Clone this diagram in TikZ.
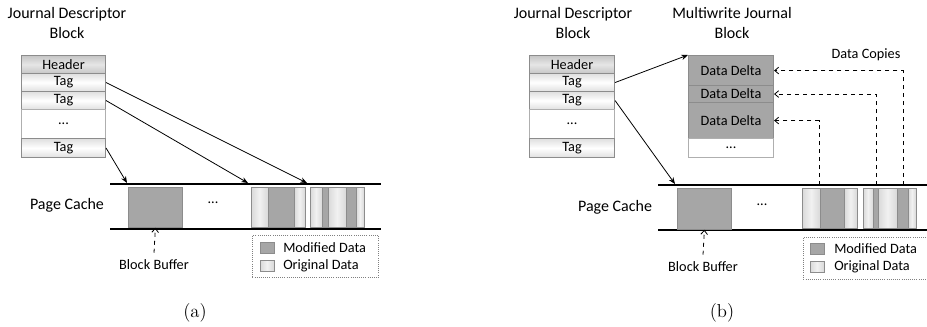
\documentclass[tikz,border=0pt]{standalone}
\usepackage{fontspec}
\usetikzlibrary{arrows.meta}
\newfontfamily\carl{Carlito}
\definecolor{darkg}{HTML}{A6A6A6}
\definecolor{lightg}{HTML}{E8E8E8}
\definecolor{edgeg}{HTML}{8C8C8C}
\tikzset{
  sz/.style 2 args={minimum width={#1*0.75pt},minimum height={#2*0.75pt}},
  lbl/.style={font=\carl\fontsize{12}{15}\selectfont, align=center, inner sep=0},
  sml/.style={font=\carl\fontsize{10.7}{13}\selectfont, inner sep=0},
  hdrow/.style={draw=edgeg, line width=0.8pt, top color=gray!45, bottom color=gray!45, middle color=gray!20, anchor=north west, inner sep=0, font=\carl\fontsize{10.7}{13}\selectfont},
  tagrow/.style={draw=edgeg, line width=0.8pt, top color=gray!25, bottom color=gray!25, middle color=white, anchor=north west, inner sep=0, font=\carl\fontsize{10.7}{13}\selectfont},
  emptyrow/.style={draw=edgeg!70, line width=0.8pt, fill=white, anchor=north west, inner sep=0, font=\carl\fontsize{10.7}{13}\selectfont},
  ddrow/.style={draw=edgeg, line width=0.8pt, fill=darkg, anchor=north west, inner sep=0, font=\carl\fontsize{10.7}{13}\selectfont},
  cacheline/.style={line width=1.5pt},
  darkblk/.style={draw=edgeg, line width=0.6pt, fill=darkg},
  lightblk/.style={draw=edgeg, line width=0.6pt, left color=gray!30, right color=gray!30, middle color=lightg!60},
  ptr/.style={-{Stealth[length=5pt,width=4pt]}, line width=0.6pt},
  dasharrow/.style={dashed, line width=0.6pt, -{Straight Barb[length=3pt,width=5pt]}},
  legbox/.style={draw=gray, densely dotted, line width=0.6pt, anchor=north west, inner sep=0},
  capt/.style={font=\fontsize{14}{16}\selectfont, inner sep=0}
}
\begin{document}
\begin{tikzpicture}[x=0.75pt,y=-0.75pt]
\useasboundingbox (0,0) rectangle (927,326);

% ===================== Panel (a) =====================
\node[lbl] (ta) at (67,23) {Journal Descriptor\\Block};
\node[hdrow, sz={84}{18}] (ha) at (21,55) {Header};
\node[tagrow, sz={84}{18}] (ta1) at (21,73) {Tag};
\node[tagrow, sz={84}{18}] (ta2) at (21,91) {Tag};
\node[emptyrow, sz={84}{29}] (da) at (21,109) {...};
\node[tagrow, sz={84}{19}] (ta3) at (21,138) {Tag};

\draw[cacheline] (110,184) -- (381,184);
\draw[cacheline] (110,229) -- (381,229);
\node[lbl] (pca) at (67,205) {Page Cache};
\node[darkblk, anchor=north west, inner sep=0, sz={54}{40}] (bba) at (128,187) {};
\node[sml] (dota) at (213,203) {...};

% stripes (a)
\draw[lightblk] (251,187) rectangle (268,227);
\draw[darkblk]  (268,187) rectangle (294,227);
\draw[lightblk] (294,187) rectangle (305,227);
\draw[lightblk] (310,187) rectangle (322,227);
\draw[darkblk]  (322,187) rectangle (328,227);
\draw[lightblk] (328,187) rectangle (346,227);
\draw[darkblk]  (346,187) rectangle (356,227);
\draw[lightblk] (356,187) rectangle (364,227);

\coordinate (a1) at (307,183);
\coordinate (a2) at (248,183);
\coordinate (a3) at (127,183);
\draw[ptr] (ta1.east) -- (a1);
\draw[ptr] (ta2.east) -- (a2);
\draw[ptr] (ta3.east) -- (a3);

\node[sml] (bbla) at (154,265) {Block Buffer};
\draw[dasharrow] (bbla.north) ++(0,-7) coordinate (bbsa) -- (bba.south);

\node[legbox, sz={126}{42}] (lga) at (252,235) {};
\node[darkblk, inner sep=0, sz={14}{11}] (lga1) at (267,248) {};
\node[lightblk, inner sep=0, sz={14}{11}] (lga2) at (267,266) {};
\node[sml, anchor=west] (lgat1) at (283,248) {Modified Data};
\node[sml, anchor=west] (lgat2) at (283,266) {Original Data};

\node[capt] (capa) at (195,313) {(a)};

% ===================== Panel (b) =====================
\node[lbl] (tb) at (573,23) {Journal Descriptor\\Block};
\node[lbl] (tm) at (732,23) {Multiwrite Journal\\Block};
\node[hdrow, sz={85}{18}] (hb) at (529,55) {Header};
\node[tagrow, sz={85}{18}] (tb1) at (529,73) {Tag};
\node[tagrow, sz={85}{18}] (tb2) at (529,91) {Tag};
\node[emptyrow, sz={85}{29}] (db) at (529,109) {...};
\node[tagrow, sz={85}{19}] (tb3) at (529,138) {Tag};

\node[ddrow, sz={85}{30}] (dd1) at (688,55) {Data Delta};
\node[ddrow, sz={85}{17}] (dd2) at (688,85) {Data Delta};
\node[ddrow, sz={85}{36}] (dd3) at (688,102) {Data Delta};
\node[emptyrow, sz={85}{19}] (ddd) at (688,138) {...};

\draw[cacheline] (658,185) -- (927,185);
\draw[cacheline] (658,230) -- (927,230);
\node[lbl] (pcb) at (615,207) {Page Cache};
\node[darkblk, anchor=north west, inner sep=0, sz={54}{41}] (bbb) at (677,188) {};
\node[sml] (dotb) at (762,205) {...};

% stripes (b)
\draw[lightblk] (802,188) rectangle (820,228);
\draw[darkblk]  (820,188) rectangle (844,228);
\draw[lightblk] (844,188) rectangle (857,228);
\draw[lightblk] (863,188) rectangle (873,228);
\draw[darkblk]  (873,188) rectangle (878,228);
\draw[lightblk] (878,188) rectangle (897,228);
\draw[darkblk]  (897,188) rectangle (908,228);
\draw[lightblk] (908,188) rectangle (916,228);

\draw[ptr] (tb1.east) -- (dd1.north west);
\coordinate (b2) at (675,184);
\draw[ptr] (tb2.east) -- (b2);

\coordinate (c1) at (903,185);
\coordinate (c2) at (876,185);
\coordinate (c3) at (819,185);
\draw[dasharrow] (c1) |- (dd1.east);
\draw[dasharrow] (c2) |- (dd2.east);
\draw[dasharrow] (c3) |- (dd3.east);
\node[sml] (dcp) at (866,55) {Data Copies};

\node[sml] (bblb) at (703,267) {Block Buffer};
\draw[dasharrow] (bblb.north) ++(0,-7) coordinate (bbsb) -- (bbb.south);

\node[legbox, sz={130}{42}] (lgb) at (803,237) {};
\node[darkblk, inner sep=0, sz={14}{11}] (lgb1) at (817,249) {};
\node[lightblk, inner sep=0, sz={14}{11}] (lgb2) at (817,267) {};
\node[sml, anchor=west] (lgbt1) at (834,249) {Modified Data};
\node[sml, anchor=west] (lgbt2) at (834,267) {Original Data};

\node[capt] (capb) at (722,313) {(b)};
\end{tikzpicture}
\end{document}
